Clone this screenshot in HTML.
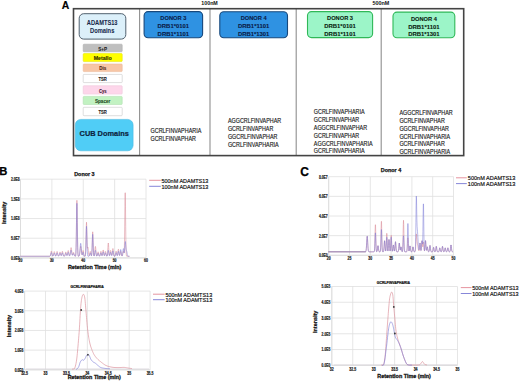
<!DOCTYPE html>
<html><head><meta charset="utf-8"><style>
html,body{margin:0;padding:0;background:#fff;width:520px;height:381px;overflow:hidden}
svg{display:block}
text{font-family:"Liberation Sans",sans-serif}
</style></head><body>
<svg width="520" height="381" viewBox="0 0 520 381">
<rect width="520" height="381" fill="#fff"/>
<text x="61.8" y="8.6" font-size="10.4" font-weight="bold" text-anchor="start" fill="#000" stroke="#000" stroke-width="0.15" >A</text>
<text x="201.3" y="4.9" font-size="4.9" font-weight="bold" text-anchor="start" fill="#111" textLength="16.5" lengthAdjust="spacingAndGlyphs" >100nM</text>
<text x="372.4" y="4.9" font-size="4.9" font-weight="bold" text-anchor="start" fill="#111" textLength="16.8" lengthAdjust="spacingAndGlyphs" >500nM</text>
<line x1="139.6" y1="8.7" x2="139.6" y2="155.6" stroke="#8f8f8f" stroke-width="1.1" opacity="1"/>
<line x1="210" y1="8.7" x2="210" y2="155.6" stroke="#8f8f8f" stroke-width="1.1" opacity="1"/>
<line x1="296.2" y1="8.7" x2="296.2" y2="155.6" stroke="#8f8f8f" stroke-width="1.1" opacity="1"/>
<line x1="381.2" y1="8.7" x2="381.2" y2="155.6" stroke="#8f8f8f" stroke-width="1.1" opacity="1"/>
<rect x="73.5" y="8.7" width="390.2" height="146.9" rx="0" fill="none" stroke="#444" stroke-width="1.6"/>
<rect x="79.2" y="13.7" width="46.6" height="25.4" rx="4.5" fill="#dcf0fa" stroke="#50606e" stroke-width="1.0"/>
<text x="102.2" y="24.9" font-size="6.4" font-weight="bold" text-anchor="middle" fill="#17284a" stroke="#17284a" stroke-width="0.05" textLength="30.7" lengthAdjust="spacingAndGlyphs" >ADAMTS13</text>
<text x="102.2" y="32.9" font-size="6.4" font-weight="bold" text-anchor="middle" fill="#17284a" stroke="#17284a" stroke-width="0.05" textLength="24.3" lengthAdjust="spacingAndGlyphs" >Domains</text>
<rect x="83.2" y="44.2" width="39" height="7.6" rx="0.8" fill="#bfbfbf" stroke="#b0b0b0" stroke-width="0.6"/>
<text x="102.7" y="50.6" font-size="5.2" font-weight="bold" text-anchor="middle" fill="#222" stroke="#222" stroke-width="0.1" textLength="8.7" lengthAdjust="spacingAndGlyphs" >S+P</text>
<rect x="83.2" y="53.6" width="39" height="8" rx="0.8" fill="#ffff00" stroke="#e8e800" stroke-width="0.6"/>
<text x="102.7" y="60.2" font-size="5.2" font-weight="bold" text-anchor="middle" fill="#2a2a00" stroke="#2a2a00" stroke-width="0.1" textLength="18" lengthAdjust="spacingAndGlyphs" >Metallo</text>
<rect x="83.2" y="64" width="39" height="7.6" rx="0.8" fill="#f7c6a6" stroke="#ecb898" stroke-width="0.6"/>
<text x="102.7" y="70.39999999999999" font-size="5.2" font-weight="bold" text-anchor="middle" fill="#4a2010" stroke="#4a2010" stroke-width="0.1" textLength="7" lengthAdjust="spacingAndGlyphs" >Dis</text>
<rect x="83.2" y="74.4" width="39" height="8.2" rx="0.8" fill="#ffffff" stroke="#c8c8c8" stroke-width="0.6"/>
<text x="102.7" y="81.1" font-size="5.2" font-weight="bold" text-anchor="middle" fill="#222" stroke="#222" stroke-width="0.1" textLength="8.4" lengthAdjust="spacingAndGlyphs" >TSR</text>
<rect x="83.2" y="85.7" width="39" height="8.4" rx="0.8" fill="#fdd6ea" stroke="#f0c8dc" stroke-width="0.6"/>
<text x="102.7" y="92.5" font-size="5.2" font-weight="bold" text-anchor="middle" fill="#3a1030" stroke="#3a1030" stroke-width="0.1" textLength="7.5" lengthAdjust="spacingAndGlyphs" >Cys</text>
<rect x="83.2" y="96.4" width="39" height="8.1" rx="0.8" fill="#c2f2c2" stroke="#b0e0b0" stroke-width="0.6"/>
<text x="102.7" y="103.05" font-size="5.2" font-weight="bold" text-anchor="middle" fill="#1d4a1d" stroke="#1d4a1d" stroke-width="0.1" textLength="15.5" lengthAdjust="spacingAndGlyphs" >Spacer</text>
<rect x="83.2" y="107.3" width="39" height="8.4" rx="0.8" fill="#ffffff" stroke="#c8c8c8" stroke-width="0.6"/>
<text x="102.7" y="114.1" font-size="5.2" font-weight="bold" text-anchor="middle" fill="#222" stroke="#222" stroke-width="0.1" textLength="8.4" lengthAdjust="spacingAndGlyphs" >TSR</text>
<rect x="75.3" y="119.4" width="57.8" height="31.4" rx="5.5" fill="#50cdf6" stroke="#4ab8e0" stroke-width="0.6"/>
<text x="104.2" y="136.2" font-size="7.4" font-weight="bold" text-anchor="middle" fill="#0d2440" stroke="#0d2440" stroke-width="0.2" textLength="49.3" lengthAdjust="spacingAndGlyphs" >CUB Domains</text>
<rect x="144.1" y="11.6" width="58.5" height="26.2" rx="4" fill="#2f92e2" stroke="#17487c" stroke-width="1.1"/>
<text x="173.35" y="20.2" font-size="6.2" font-weight="bold" text-anchor="middle" fill="#0a1c48" stroke="#0a1c48" stroke-width="0.1" textLength="26" lengthAdjust="spacingAndGlyphs" >DONOR 3</text>
<text x="173.35" y="28.200000000000003" font-size="6.2" font-weight="bold" text-anchor="middle" fill="#0a1c48" stroke="#0a1c48" stroke-width="0.1" textLength="31.5" lengthAdjust="spacingAndGlyphs" >DRB1*0101</text>
<text x="173.35" y="35.9" font-size="6.2" font-weight="bold" text-anchor="middle" fill="#0a1c48" stroke="#0a1c48" stroke-width="0.1" textLength="31.5" lengthAdjust="spacingAndGlyphs" >DRB1*1101</text>
<rect x="219.8" y="11.8" width="67.7" height="26.0" rx="4" fill="#2f92e2" stroke="#17487c" stroke-width="1.1"/>
<text x="253.65" y="20.4" font-size="6.2" font-weight="bold" text-anchor="middle" fill="#0a1c48" stroke="#0a1c48" stroke-width="0.1" textLength="26" lengthAdjust="spacingAndGlyphs" >DONOR 4</text>
<text x="253.65" y="28.400000000000002" font-size="6.2" font-weight="bold" text-anchor="middle" fill="#0a1c48" stroke="#0a1c48" stroke-width="0.1" textLength="31.5" lengthAdjust="spacingAndGlyphs" >DRB1*1101</text>
<text x="253.65" y="36.1" font-size="6.2" font-weight="bold" text-anchor="middle" fill="#0a1c48" stroke="#0a1c48" stroke-width="0.1" textLength="31.5" lengthAdjust="spacingAndGlyphs" >DRB1*1301</text>
<rect x="307.5" y="11.6" width="65.1" height="26.0" rx="4" fill="#9cf5c8" stroke="#30b858" stroke-width="1.1"/>
<text x="340.05" y="20.2" font-size="6.2" font-weight="bold" text-anchor="middle" fill="#0a2410" stroke="#0a2410" stroke-width="0.1" textLength="26" lengthAdjust="spacingAndGlyphs" >DONOR 3</text>
<text x="340.05" y="28.200000000000003" font-size="6.2" font-weight="bold" text-anchor="middle" fill="#0a2410" stroke="#0a2410" stroke-width="0.1" textLength="31.5" lengthAdjust="spacingAndGlyphs" >DRB1*0101</text>
<text x="340.05" y="35.9" font-size="6.2" font-weight="bold" text-anchor="middle" fill="#0a2410" stroke="#0a2410" stroke-width="0.1" textLength="31.5" lengthAdjust="spacingAndGlyphs" >DRB1*1101</text>
<rect x="393.0" y="12.1" width="61.8" height="25.6" rx="4" fill="#9cf5c8" stroke="#30b858" stroke-width="1.1"/>
<text x="423.9" y="20.7" font-size="6.2" font-weight="bold" text-anchor="middle" fill="#0a2410" stroke="#0a2410" stroke-width="0.1" textLength="26" lengthAdjust="spacingAndGlyphs" >DONOR 4</text>
<text x="423.9" y="28.700000000000003" font-size="6.2" font-weight="bold" text-anchor="middle" fill="#0a2410" stroke="#0a2410" stroke-width="0.1" textLength="31.5" lengthAdjust="spacingAndGlyphs" >DRB1*1101</text>
<text x="423.9" y="36.4" font-size="6.2" font-weight="bold" text-anchor="middle" fill="#0a2410" stroke="#0a2410" stroke-width="0.1" textLength="31.5" lengthAdjust="spacingAndGlyphs" >DRB1*1301</text>
<text x="150.5" y="132.5" font-size="6.6" text-anchor="start" fill="#222" stroke="#222" stroke-width="0.16" textLength="50.8" lengthAdjust="spacingAndGlyphs" >GCRLFINVAPHARIA</text>
<text x="150.5" y="140.6" font-size="6.6" text-anchor="start" fill="#222" stroke="#222" stroke-width="0.16" textLength="45.4" lengthAdjust="spacingAndGlyphs" >GCRLFINVAPHAR</text>
<text x="227.9" y="123.0" font-size="6.6" text-anchor="start" fill="#222" stroke="#222" stroke-width="0.16" textLength="53.3" lengthAdjust="spacingAndGlyphs" >AGGCRLFINVAPHAR</text>
<text x="227.9" y="131.2" font-size="6.6" text-anchor="start" fill="#222" stroke="#222" stroke-width="0.16" textLength="45.4" lengthAdjust="spacingAndGlyphs" >GCRLFINVAPHAR</text>
<text x="227.9" y="139.0" font-size="6.6" text-anchor="start" fill="#222" stroke="#222" stroke-width="0.16" textLength="49.5" lengthAdjust="spacingAndGlyphs" >GGCRLFINVAPHAR</text>
<text x="227.9" y="146.89999999999998" font-size="6.6" text-anchor="start" fill="#222" stroke="#222" stroke-width="0.16" textLength="50.8" lengthAdjust="spacingAndGlyphs" >GCRLFINVAPHARIA</text>
<text x="313.8" y="114.2" font-size="6.6" text-anchor="start" fill="#222" stroke="#222" stroke-width="0.16" textLength="50.8" lengthAdjust="spacingAndGlyphs" >GCRLFINVAPHARIA</text>
<text x="313.8" y="121.9" font-size="6.6" text-anchor="start" fill="#222" stroke="#222" stroke-width="0.16" textLength="45.4" lengthAdjust="spacingAndGlyphs" >GCRLFINVAPHAR</text>
<text x="313.8" y="129.7" font-size="6.6" text-anchor="start" fill="#222" stroke="#222" stroke-width="0.16" textLength="53.3" lengthAdjust="spacingAndGlyphs" >AGGCRLFINVAPHAR</text>
<text x="313.8" y="137.5" font-size="6.6" text-anchor="start" fill="#222" stroke="#222" stroke-width="0.16" textLength="45.4" lengthAdjust="spacingAndGlyphs" >GCRLFINVAPHAR</text>
<text x="313.8" y="145.5" font-size="6.6" text-anchor="start" fill="#222" stroke="#222" stroke-width="0.16" textLength="58.8" lengthAdjust="spacingAndGlyphs" >AGGCRLFINVAPHARIA</text>
<text x="313.8" y="153.29999999999998" font-size="6.6" text-anchor="start" fill="#222" stroke="#222" stroke-width="0.16" textLength="50.8" lengthAdjust="spacingAndGlyphs" >GCRLFINVAPHARIA</text>
<text x="399.4" y="114.9" font-size="6.6" text-anchor="start" fill="#222" stroke="#222" stroke-width="0.16" textLength="53.3" lengthAdjust="spacingAndGlyphs" >AGGCRLFINVAPHAR</text>
<text x="399.4" y="122.7" font-size="6.6" text-anchor="start" fill="#222" stroke="#222" stroke-width="0.16" textLength="45.4" lengthAdjust="spacingAndGlyphs" >GCRLFINVAPHAR</text>
<text x="399.4" y="130.6" font-size="6.6" text-anchor="start" fill="#222" stroke="#222" stroke-width="0.16" textLength="49.5" lengthAdjust="spacingAndGlyphs" >GGCRLFINVAPHAR</text>
<text x="399.4" y="138.5" font-size="6.6" text-anchor="start" fill="#222" stroke="#222" stroke-width="0.16" textLength="50.8" lengthAdjust="spacingAndGlyphs" >GCRLFINVAPHARIA</text>
<text x="399.4" y="146.29999999999998" font-size="6.6" text-anchor="start" fill="#222" stroke="#222" stroke-width="0.16" textLength="45.4" lengthAdjust="spacingAndGlyphs" >GCRLFINVAPHAR</text>
<text x="399.4" y="154.1" font-size="6.6" text-anchor="start" fill="#222" stroke="#222" stroke-width="0.16" textLength="50.8" lengthAdjust="spacingAndGlyphs" >GCRLFINVAPHARIA</text>
<text x="-0.7" y="175.2" font-size="11.2" font-weight="bold" text-anchor="start" fill="#000" stroke="#000" stroke-width="0.25" >B</text>
<text x="84.4" y="175.7" font-size="5.7" font-weight="bold" text-anchor="middle" fill="#111" stroke="#111" stroke-width="0.25" textLength="20.4" lengthAdjust="spacingAndGlyphs" >Donor 3</text>
<line x1="20.5" y1="179.2" x2="146" y2="179.2" stroke="#e0e0e0" stroke-width="0.8" opacity="1"/>
<text x="19.6" y="181.1" font-size="4.6" font-weight="bold" text-anchor="end" fill="#1a1a1a" stroke="#1a1a1a" stroke-width="0.2" textLength="8.69" lengthAdjust="spacingAndGlyphs" >2.0E8</text>
<line x1="20.5" y1="198.875" x2="146" y2="198.875" stroke="#e0e0e0" stroke-width="0.8" opacity="1"/>
<text x="19.6" y="200.775" font-size="4.6" font-weight="bold" text-anchor="end" fill="#1a1a1a" stroke="#1a1a1a" stroke-width="0.2" textLength="8.69" lengthAdjust="spacingAndGlyphs" >1.5E8</text>
<line x1="20.5" y1="218.54999999999998" x2="146" y2="218.54999999999998" stroke="#e0e0e0" stroke-width="0.8" opacity="1"/>
<text x="19.6" y="220.45" font-size="4.6" font-weight="bold" text-anchor="end" fill="#1a1a1a" stroke="#1a1a1a" stroke-width="0.2" textLength="8.69" lengthAdjust="spacingAndGlyphs" >1.0E8</text>
<line x1="20.5" y1="238.22499999999997" x2="146" y2="238.22499999999997" stroke="#e0e0e0" stroke-width="0.8" opacity="1"/>
<text x="19.6" y="240.12499999999997" font-size="4.6" font-weight="bold" text-anchor="end" fill="#1a1a1a" stroke="#1a1a1a" stroke-width="0.2" textLength="8.69" lengthAdjust="spacingAndGlyphs" >5.0E7</text>
<line x1="20.5" y1="257.9" x2="146" y2="257.9" stroke="#e0e0e0" stroke-width="0.8" opacity="1"/>
<text x="19.6" y="259.79999999999995" font-size="4.6" font-weight="bold" text-anchor="end" fill="#1a1a1a" stroke="#1a1a1a" stroke-width="0.2" textLength="8.69" lengthAdjust="spacingAndGlyphs" >0.0E0</text>
<line x1="20.5" y1="179.2" x2="20.5" y2="257.9" stroke="#e0e0e0" stroke-width="0.8" opacity="1"/>
<text x="20.5" y="262.4" font-size="4.6" font-weight="bold" text-anchor="middle" fill="#1a1a1a" stroke="#1a1a1a" stroke-width="0.2" textLength="3.87" lengthAdjust="spacingAndGlyphs" >20</text>
<line x1="51.875" y1="179.2" x2="51.875" y2="257.9" stroke="#e0e0e0" stroke-width="0.8" opacity="1"/>
<text x="51.875" y="262.4" font-size="4.6" font-weight="bold" text-anchor="middle" fill="#1a1a1a" stroke="#1a1a1a" stroke-width="0.2" textLength="3.87" lengthAdjust="spacingAndGlyphs" >30</text>
<line x1="83.25" y1="179.2" x2="83.25" y2="257.9" stroke="#e0e0e0" stroke-width="0.8" opacity="1"/>
<text x="83.25" y="262.4" font-size="4.6" font-weight="bold" text-anchor="middle" fill="#1a1a1a" stroke="#1a1a1a" stroke-width="0.2" textLength="3.87" lengthAdjust="spacingAndGlyphs" >40</text>
<line x1="114.625" y1="179.2" x2="114.625" y2="257.9" stroke="#e0e0e0" stroke-width="0.8" opacity="1"/>
<text x="114.625" y="262.4" font-size="4.6" font-weight="bold" text-anchor="middle" fill="#1a1a1a" stroke="#1a1a1a" stroke-width="0.2" textLength="3.87" lengthAdjust="spacingAndGlyphs" >50</text>
<line x1="146.0" y1="179.2" x2="146.0" y2="257.9" stroke="#e0e0e0" stroke-width="0.8" opacity="1"/>
<text x="146.0" y="262.4" font-size="4.6" font-weight="bold" text-anchor="middle" fill="#1a1a1a" stroke="#1a1a1a" stroke-width="0.2" textLength="3.87" lengthAdjust="spacingAndGlyphs" >60</text>
<line x1="20.5" y1="179.2" x2="20.5" y2="257.9" stroke="#dadada" stroke-width="0.8" opacity="1"/>
<line x1="20.5" y1="257.9" x2="146" y2="257.9" stroke="#dadada" stroke-width="0.8" opacity="1"/>
<text x="94.6" y="268.6" font-size="6.0" font-weight="bold" text-anchor="middle" fill="#111" stroke="#111" stroke-width="0.28" textLength="53.3" lengthAdjust="spacingAndGlyphs" >Retention Time (min)</text>
<text x="5.6" y="212.9" font-size="5.8" font-weight="bold" text-anchor="middle" fill="#111" stroke="#111" stroke-width="0.25" textLength="22.3" lengthAdjust="spacingAndGlyphs" transform="rotate(-90 5.6 212.9)">Intensity</text>
<line x1="149.2" y1="180.3" x2="160.8" y2="180.3" stroke="#e07a88" stroke-width="1.0" opacity="0.8"/>
<line x1="149.2" y1="186.3" x2="160.8" y2="186.3" stroke="#6a6ad0" stroke-width="1.0" opacity="0.8"/>
<text x="161.5" y="182.8" font-size="6.0" text-anchor="start" fill="#111" stroke="#111" stroke-width="0.18" textLength="46.8" lengthAdjust="spacingAndGlyphs" >500nM ADAMTS13</text>
<text x="161.5" y="188.8" font-size="6.0" text-anchor="start" fill="#111" stroke="#111" stroke-width="0.18" textLength="46.8" lengthAdjust="spacingAndGlyphs" >100nM ADAMTS13</text>
<polyline points="20.5,256.30 20.7,256.30 20.9,256.30 21.1,256.30 21.3,256.30 21.5,256.30 21.7,256.30 21.9,256.30 22.1,256.30 22.3,256.30 22.5,256.30 22.7,256.30 22.9,256.30 23.1,256.30 23.3,256.30 23.5,256.30 23.7,256.30 23.9,256.30 24.1,256.30 24.3,256.30 24.5,256.30 24.7,256.30 24.9,256.30 25.1,256.30 25.3,256.30 25.5,256.30 25.7,256.30 25.9,256.30 26.1,256.30 26.3,256.30 26.5,256.30 26.7,256.30 26.9,256.30 27.1,256.30 27.3,256.30 27.5,256.30 27.7,256.30 27.9,256.30 28.1,256.30 28.3,256.30 28.5,256.30 28.7,256.30 28.9,256.30 29.1,256.30 29.3,256.30 29.5,256.30 29.7,256.30 29.9,256.30 30.1,256.30 30.3,256.30 30.5,256.30 30.7,256.30 30.9,256.30 31.1,256.30 31.3,256.30 31.5,256.30 31.7,256.30 31.9,256.30 32.1,256.30 32.3,256.30 32.5,256.30 32.7,256.30 32.9,256.30 33.1,256.30 33.3,256.30 33.5,256.30 33.7,256.30 33.9,256.30 34.1,256.30 34.3,256.30 34.5,256.30 34.7,256.30 34.9,256.30 35.1,256.30 35.3,256.30 35.5,256.30 35.7,256.30 35.9,256.30 36.1,256.30 36.3,256.30 36.5,256.30 36.7,256.30 36.9,256.30 37.1,256.30 37.3,256.30 37.5,256.30 37.7,256.30 37.9,256.30 38.1,256.30 38.3,256.30 38.5,256.30 38.7,256.30 38.9,256.30 39.1,256.30 39.3,256.30 39.5,256.30 39.7,256.30 39.9,256.30 40.1,256.30 40.3,256.30 40.5,256.30 40.7,256.30 40.9,256.30 41.1,256.30 41.3,256.30 41.5,256.30 41.7,256.30 41.9,256.30 42.1,256.30 42.3,256.30 42.5,256.30 42.7,256.30 42.9,256.30 43.1,256.30 43.3,256.30 43.5,256.30 43.7,256.30 43.9,256.30 44.1,256.30 44.3,256.30 44.5,256.30 44.7,256.30 44.9,256.30 45.1,256.30 45.3,256.30 45.5,256.30 45.7,256.30 45.9,256.30 46.1,256.30 46.3,256.30 46.5,256.30 46.7,256.30 46.9,256.30 47.1,256.30 47.3,256.30 47.5,256.30 47.7,256.30 47.9,256.30 48.1,256.30 48.3,256.30 48.5,256.30 48.7,256.30 48.9,256.30 49.1,256.30 49.3,256.30 49.5,256.29 49.7,256.26 49.9,256.17 50.1,255.98 50.3,255.58 50.5,254.91 50.7,253.94 50.9,252.79 51.1,251.73 51.3,251.09 51.5,251.09 51.7,251.73 51.9,252.79 52.1,253.94 52.3,254.90 52.5,255.56 52.7,255.91 52.9,255.99 53.1,255.82 53.3,255.39 53.5,254.66 53.7,253.71 53.9,252.69 54.1,251.90 54.3,251.60 54.5,251.90 54.7,252.69 54.9,253.71 55.1,254.66 55.3,255.38 55.5,255.79 55.7,255.92 55.9,255.78 56.1,255.34 56.3,254.59 56.5,253.60 56.7,252.54 56.9,251.71 57.1,251.40 57.3,251.71 57.5,252.54 57.7,253.60 57.9,254.60 58.1,255.35 58.3,255.81 58.5,256.00 58.7,255.96 58.9,255.68 59.1,255.14 59.3,254.34 59.5,253.39 59.7,252.51 59.9,251.97 60.1,251.97 60.3,252.50 60.5,253.38 60.7,254.30 60.9,255.03 61.1,255.40 61.3,255.35 61.5,254.88 61.7,254.04 61.9,252.98 62.1,251.99 62.3,251.38 62.5,251.38 62.7,251.99 62.9,252.99 63.1,254.08 63.3,254.99 63.5,255.62 63.7,255.99 63.9,256.17 64.1,256.22 64.3,256.18 64.5,256.03 64.7,255.70 64.9,255.15 65.1,254.34 65.3,253.39 65.5,252.51 65.7,251.97 65.9,251.97 66.1,252.50 66.3,253.37 66.5,254.29 66.7,255.01 66.9,255.35 67.1,255.25 67.3,254.67 67.5,253.68 67.7,252.45 67.9,251.30 68.1,250.59 68.3,250.59 68.5,251.30 68.7,252.46 68.9,253.71 69.1,254.75 69.3,255.42 69.5,255.70 69.7,255.59 69.9,255.07 70.1,254.12 70.3,252.72 70.5,251.02 70.7,249.33 70.9,248.07 71.1,247.60 71.3,248.07 71.5,249.33 71.7,251.00 71.9,252.67 72.1,253.97 72.3,254.75 72.5,254.96 72.7,254.66 72.9,254.00 73.1,253.20 73.3,252.55 73.5,252.30 73.7,252.56 73.9,253.23 74.1,254.09 74.3,254.91 74.5,255.53 74.7,255.93 74.9,256.14 75.1,256.24 75.3,256.24 75.5,256.08 75.7,255.35 75.9,253.01 76.1,247.17 76.3,236.11 76.5,220.72 76.7,206.30 76.9,200.30 77.1,206.30 77.3,220.72 77.5,236.11 77.7,247.17 77.9,253.01 78.1,255.35 78.3,256.08 78.5,256.25 78.7,256.26 78.9,256.19 79.1,256.01 79.3,255.64 79.5,254.95 79.7,253.81 79.9,252.19 80.1,250.23 80.3,248.29 80.5,246.84 80.7,246.30 80.9,246.84 81.1,248.29 81.3,250.23 81.5,252.15 81.7,253.69 81.9,254.62 82.1,254.86 82.3,254.40 82.5,253.37 82.7,252.05 82.9,250.93 83.1,250.50 83.3,250.95 83.5,252.09 83.7,253.48 83.9,254.69 84.1,255.52 84.3,255.97 84.5,256.18 84.7,256.26 84.9,256.27 85.1,256.17 85.3,255.73 85.5,254.30 85.7,250.76 85.9,244.04 86.1,234.69 86.3,225.93 86.5,222.23 86.7,225.69 86.9,233.93 87.1,242.19 87.3,247.06 87.5,248.24 87.7,247.57 87.9,247.17 88.1,248.12 88.3,250.23 88.5,252.59 88.7,254.42 88.9,255.44 89.1,255.77 89.3,255.57 89.5,254.92 89.7,253.91 89.9,252.74 90.1,251.78 90.3,251.40 90.5,251.78 90.7,252.74 90.9,253.91 91.1,254.92 91.3,255.54 91.5,255.61 91.7,254.76 91.9,252.28 92.1,247.46 92.3,240.73 92.5,234.43 92.7,231.80 92.9,234.43 93.1,240.73 93.3,247.47 93.5,252.30 93.7,254.83 93.9,255.78 94.1,255.86 94.3,255.39 94.5,254.32 94.7,252.55 94.9,250.23 95.1,247.95 95.3,246.50 95.5,246.50 95.7,247.95 95.9,250.23 96.1,252.55 96.3,254.31 96.5,255.38 96.7,255.87 96.9,255.94 97.1,255.66 97.3,255.04 97.5,254.11 97.7,253.03 97.9,252.15 98.1,251.80 98.3,252.15 98.5,253.03 98.7,254.11 98.9,255.05 99.1,255.68 99.3,256.02 99.5,256.11 99.7,255.99 99.9,255.62 100.1,254.91 100.3,253.87 100.5,252.67 100.7,251.68 100.9,251.30 101.1,251.68 101.3,252.66 101.5,253.85 101.7,254.84 101.9,255.41 102.1,255.45 102.3,254.93 102.5,253.87 102.7,252.41 102.9,250.95 103.1,250.03 103.3,250.03 103.5,250.95 103.7,252.41 103.9,253.87 104.1,254.93 104.3,255.45 104.5,255.41 104.7,254.84 104.9,253.85 105.1,252.66 105.3,251.68 105.5,251.30 105.7,251.68 105.9,252.67 106.1,253.87 106.3,254.91 106.5,255.62 106.7,256.00 106.9,256.10 107.1,255.89 107.3,255.17 107.5,253.56 107.7,250.83 107.9,247.34 108.1,244.25 108.3,243.00 108.5,244.25 108.7,247.34 108.9,250.81 109.1,253.50 109.3,254.97 109.5,255.40 109.7,255.03 109.9,254.06 110.1,252.72 110.3,251.37 110.5,250.52 110.7,250.52 110.9,251.37 111.1,252.71 111.3,254.04 111.5,254.98 111.7,255.34 111.9,255.04 112.1,254.07 112.3,252.49 112.5,250.63 112.7,249.10 112.9,248.50 113.1,249.10 113.3,250.64 113.5,252.50 113.7,254.13 113.9,255.24 114.1,255.86 114.3,256.14 114.5,256.22 114.7,256.18 114.9,256.01 115.1,255.60 115.3,254.85 115.5,253.77 115.7,252.52 115.9,251.50 116.1,251.10 116.3,251.50 116.5,252.52 116.7,253.75 116.9,254.77 117.1,255.35 117.3,255.37 117.5,254.77 117.7,253.57 117.9,251.93 118.1,250.28 118.3,249.24 118.5,249.24 118.7,250.28 118.9,251.93 119.1,253.57 119.3,254.78 119.5,255.38 119.7,255.38 119.9,254.83 120.1,253.84 120.3,252.66 120.5,251.68 120.7,251.30 120.9,251.68 121.1,252.67 121.3,253.87 121.5,254.91 121.7,255.61 121.9,255.96 122.1,256.03 122.3,255.83 122.5,255.30 122.7,254.42 122.9,253.27 123.1,252.12 123.3,251.40 123.5,251.39 123.7,252.07 123.9,252.93 124.1,252.93 124.3,250.10 124.5,241.69 124.7,226.14 124.9,206.80 125.1,192.80 125.3,192.81 125.5,206.86 125.7,226.31 125.9,242.13 126.1,251.09 126.3,254.81 126.5,255.97 126.7,256.24 126.9,256.29 127.1,256.30 127.3,256.30 127.5,256.30 127.7,256.30 127.9,256.30 128.1,256.30 128.3,256.30 128.5,256.30 128.7,256.30 128.9,256.30 129.1,256.30 129.3,256.30 129.5,256.30" fill="none" stroke="#d98a96" stroke-width="0.7" stroke-linejoin="round" opacity="0.8"/>
<polyline points="20.5,256.30 20.7,256.30 20.9,256.30 21.1,256.30 21.3,256.30 21.5,256.30 21.7,256.30 21.9,256.30 22.1,256.30 22.3,256.30 22.5,256.30 22.7,256.30 22.9,256.30 23.1,256.30 23.3,256.30 23.5,256.30 23.7,256.30 23.9,256.30 24.1,256.30 24.3,256.30 24.5,256.30 24.7,256.30 24.9,256.30 25.1,256.30 25.3,256.30 25.5,256.30 25.7,256.30 25.9,256.30 26.1,256.30 26.3,256.30 26.5,256.30 26.7,256.30 26.9,256.30 27.1,256.30 27.3,256.30 27.5,256.30 27.7,256.30 27.9,256.30 28.1,256.30 28.3,256.30 28.5,256.30 28.7,256.30 28.9,256.30 29.1,256.30 29.3,256.30 29.5,256.30 29.7,256.30 29.9,256.30 30.1,256.30 30.3,256.30 30.5,256.30 30.7,256.30 30.9,256.30 31.1,256.30 31.3,256.30 31.5,256.30 31.7,256.30 31.9,256.30 32.1,256.30 32.3,256.30 32.5,256.30 32.7,256.30 32.9,256.30 33.1,256.30 33.3,256.30 33.5,256.30 33.7,256.30 33.9,256.30 34.1,256.30 34.3,256.30 34.5,256.30 34.7,256.30 34.9,256.30 35.1,256.30 35.3,256.30 35.5,256.30 35.7,256.30 35.9,256.30 36.1,256.30 36.3,256.30 36.5,256.30 36.7,256.30 36.9,256.30 37.1,256.30 37.3,256.30 37.5,256.30 37.7,256.30 37.9,256.30 38.1,256.30 38.3,256.30 38.5,256.30 38.7,256.30 38.9,256.30 39.1,256.30 39.3,256.30 39.5,256.30 39.7,256.30 39.9,256.30 40.1,256.30 40.3,256.30 40.5,256.30 40.7,256.30 40.9,256.30 41.1,256.30 41.3,256.30 41.5,256.30 41.7,256.30 41.9,256.30 42.1,256.30 42.3,256.30 42.5,256.30 42.7,256.30 42.9,256.30 43.1,256.30 43.3,256.30 43.5,256.30 43.7,256.30 43.9,256.30 44.1,256.30 44.3,256.30 44.5,256.30 44.7,256.30 44.9,256.30 45.1,256.30 45.3,256.30 45.5,256.30 45.7,256.30 45.9,256.30 46.1,256.30 46.3,256.30 46.5,256.30 46.7,256.30 46.9,256.30 47.1,256.30 47.3,256.30 47.5,256.30 47.7,256.30 47.9,256.30 48.1,256.30 48.3,256.30 48.5,256.30 48.7,256.30 48.9,256.30 49.1,256.30 49.3,256.30 49.5,256.29 49.7,256.27 49.9,256.21 50.1,256.07 50.3,255.80 50.5,255.33 50.7,254.65 50.9,253.85 51.1,253.10 51.3,252.65 51.5,252.65 51.7,253.10 51.9,253.85 52.1,254.65 52.3,255.32 52.5,255.78 52.7,256.03 52.9,256.08 53.1,255.96 53.3,255.66 53.5,255.16 53.7,254.48 53.9,253.77 54.1,253.22 54.3,253.01 54.5,253.22 54.7,253.77 54.9,254.48 55.1,255.15 55.3,255.65 55.5,255.95 55.7,256.04 55.9,255.93 56.1,255.63 56.3,255.10 56.5,254.41 56.7,253.67 56.9,253.09 57.1,252.87 57.3,253.09 57.5,253.67 57.7,254.41 57.9,255.11 58.1,255.64 58.3,255.96 58.5,256.09 58.7,256.06 58.9,255.87 59.1,255.49 59.3,254.93 59.5,254.26 59.7,253.65 59.9,253.27 60.1,253.27 60.3,253.64 60.5,254.25 60.7,254.90 60.9,255.41 61.1,255.67 61.3,255.64 61.5,255.31 61.7,254.72 61.9,253.98 62.1,253.28 62.3,252.86 62.5,252.86 62.7,253.28 62.9,253.98 63.1,254.74 63.3,255.38 63.5,255.83 63.7,256.08 63.9,256.21 64.1,256.24 64.3,256.22 64.5,256.11 64.7,255.88 64.9,255.49 65.1,254.93 65.3,254.26 65.5,253.65 65.7,253.27 65.9,253.27 66.1,253.64 66.3,254.25 66.5,254.90 66.7,255.39 66.9,255.63 67.1,255.56 67.3,255.16 67.5,254.47 67.7,253.61 67.9,252.80 68.1,252.31 68.3,252.31 68.5,252.80 68.7,253.61 68.9,254.49 69.1,255.21 69.3,255.68 69.5,255.88 69.7,255.80 69.9,255.44 70.1,254.77 70.3,253.79 70.5,252.61 70.7,251.42 70.9,250.54 71.1,250.21 71.3,250.54 71.5,251.42 71.7,252.59 71.9,253.76 72.1,254.67 72.3,255.22 72.5,255.36 72.7,255.15 72.9,254.69 73.1,254.13 73.3,253.67 73.5,253.50 73.7,253.68 73.9,254.15 74.1,254.76 74.3,255.33 74.5,255.76 74.7,256.04 74.9,256.19 75.1,256.25 75.3,256.25 75.5,256.09 75.7,255.40 75.9,253.19 76.1,247.66 76.3,237.20 76.5,222.62 76.7,208.98 76.9,203.30 77.1,208.98 77.3,222.62 77.5,237.20 77.7,247.66 77.9,253.19 78.1,255.40 78.3,256.09 78.5,256.25 78.7,256.24 78.9,256.15 79.1,255.93 79.3,255.45 79.5,254.54 79.7,253.06 79.9,250.96 80.1,248.42 80.3,245.89 80.5,244.00 80.7,243.30 80.9,244.00 81.1,245.89 81.3,248.41 81.5,250.93 81.7,252.98 81.9,254.31 82.1,254.90 82.3,254.80 82.5,254.18 82.7,253.30 82.9,252.54 83.1,252.24 83.3,252.55 83.5,253.35 83.7,254.32 83.9,255.17 84.1,255.75 84.3,256.07 84.5,256.22 84.7,256.27 84.9,256.27 85.1,256.18 85.3,255.79 85.5,254.54 85.7,251.41 85.9,245.49 86.1,237.24 86.3,229.52 86.5,226.30 86.7,229.52 86.9,237.24 87.1,245.49 87.3,251.41 87.5,254.54 87.7,255.79 87.9,256.18 88.1,256.28 88.3,256.30 88.5,256.29 88.7,256.28 88.9,256.23 89.1,256.11 89.3,255.84 89.5,255.35 89.7,254.63 89.9,253.81 90.1,253.13 90.3,252.87 90.5,253.13 90.7,253.81 90.9,254.63 91.1,255.33 91.3,255.75 91.5,255.74 91.7,254.94 91.9,252.69 92.1,248.36 92.3,242.32 92.5,236.66 92.7,234.30 92.9,236.66 93.1,242.32 93.3,248.37 93.5,252.71 93.7,254.99 93.9,255.86 94.1,256.01 94.3,255.75 94.5,255.11 94.7,254.05 94.9,252.66 95.1,251.29 95.3,250.42 95.5,250.42 95.7,251.29 95.9,252.66 96.1,254.05 96.3,255.11 96.5,255.75 96.7,256.03 96.9,256.06 97.1,255.86 97.3,255.42 97.5,254.77 97.7,254.01 97.9,253.39 98.1,253.15 98.3,253.39 98.5,254.01 98.7,254.77 98.9,255.42 99.1,255.87 99.3,256.10 99.5,256.17 99.7,256.08 99.9,255.82 100.1,255.33 100.3,254.60 100.5,253.76 100.7,253.07 100.9,252.80 101.1,253.07 101.3,253.76 101.5,254.58 101.7,255.28 101.9,255.67 102.1,255.71 102.3,255.34 102.5,254.60 102.7,253.58 102.9,252.56 103.1,251.91 103.3,251.91 103.5,252.56 103.7,253.58 103.9,254.60 104.1,255.34 104.3,255.71 104.5,255.67 104.7,255.28 104.9,254.58 105.1,253.76 105.3,253.07 105.5,252.80 105.7,253.07 105.9,253.76 106.1,254.60 106.3,255.33 106.5,255.82 106.7,256.09 106.9,256.18 107.1,256.11 107.3,255.79 107.5,255.06 107.7,253.83 107.9,252.26 108.1,250.86 108.3,250.30 108.5,250.86 108.7,252.26 108.9,253.82 109.1,255.02 109.3,255.65 109.5,255.76 109.7,255.44 109.9,254.74 110.1,253.79 110.3,252.85 110.5,252.25 110.7,252.25 110.9,252.85 111.1,253.79 111.3,254.72 111.5,255.37 111.7,255.63 111.9,255.42 112.1,254.74 112.3,253.63 112.5,252.33 112.7,251.26 112.9,250.84 113.1,251.26 113.3,252.34 113.5,253.64 113.7,254.78 113.9,255.56 114.1,255.99 114.3,256.19 114.5,256.25 114.7,256.22 114.9,256.09 115.1,255.81 115.3,255.29 115.5,254.53 115.7,253.66 115.9,252.94 116.1,252.66 116.3,252.94 116.5,253.65 116.7,254.51 116.9,255.23 117.1,255.64 117.3,255.65 117.5,255.23 117.7,254.39 117.9,253.24 118.1,252.09 118.3,251.36 118.5,251.36 118.7,252.09 118.9,253.23 119.1,254.37 119.3,255.17 119.5,255.47 119.7,255.21 119.9,254.35 120.1,252.97 120.3,251.36 120.5,250.02 120.7,249.50 120.9,250.02 121.1,251.36 121.3,252.99 121.5,254.40 121.7,255.36 121.9,255.83 122.1,255.90 122.3,255.57 122.5,254.75 122.7,253.37 122.9,251.57 123.1,249.78 123.3,248.65 123.5,248.63 123.7,249.70 123.9,251.28 124.1,252.55 124.3,252.78 124.5,251.55 124.7,248.92 124.9,245.60 125.1,242.74 125.3,241.52 125.5,242.38 125.7,244.71 125.9,247.32 126.1,249.21 126.3,250.15 126.5,250.58 126.7,251.11 126.9,252.04 127.1,253.24 127.3,254.42 127.5,255.31 127.7,255.86 127.9,256.13 128.1,256.24 128.3,256.28 128.5,256.30 128.7,256.30 128.9,256.30 129.1,256.30 129.3,256.30 129.5,256.30" fill="none" stroke="#7b7bd6" stroke-width="0.7" stroke-linejoin="round" opacity="0.75"/>
<text x="87.2" y="288.2" font-size="4.0" font-weight="bold" text-anchor="middle" fill="#111" stroke="#111" stroke-width="0.22" textLength="33.2" lengthAdjust="spacingAndGlyphs" >GCRLFINVAPHARIA</text>
<line x1="24.6" y1="291.1" x2="150.1" y2="291.1" stroke="#e0e0e0" stroke-width="0.8" opacity="1"/>
<text x="23.4" y="293.0" font-size="4.6" font-weight="bold" text-anchor="end" fill="#1a1a1a" stroke="#1a1a1a" stroke-width="0.2" textLength="8.69" lengthAdjust="spacingAndGlyphs" >4.0E6</text>
<line x1="24.6" y1="310.77500000000003" x2="150.1" y2="310.77500000000003" stroke="#e0e0e0" stroke-width="0.8" opacity="1"/>
<text x="23.4" y="312.675" font-size="4.6" font-weight="bold" text-anchor="end" fill="#1a1a1a" stroke="#1a1a1a" stroke-width="0.2" textLength="8.69" lengthAdjust="spacingAndGlyphs" >3.0E6</text>
<line x1="24.6" y1="330.45000000000005" x2="150.1" y2="330.45000000000005" stroke="#e0e0e0" stroke-width="0.8" opacity="1"/>
<text x="23.4" y="332.35" font-size="4.6" font-weight="bold" text-anchor="end" fill="#1a1a1a" stroke="#1a1a1a" stroke-width="0.2" textLength="8.69" lengthAdjust="spacingAndGlyphs" >2.0E6</text>
<line x1="24.6" y1="350.125" x2="150.1" y2="350.125" stroke="#e0e0e0" stroke-width="0.8" opacity="1"/>
<text x="23.4" y="352.025" font-size="4.6" font-weight="bold" text-anchor="end" fill="#1a1a1a" stroke="#1a1a1a" stroke-width="0.2" textLength="8.69" lengthAdjust="spacingAndGlyphs" >1.0E6</text>
<line x1="24.6" y1="369.8" x2="150.1" y2="369.8" stroke="#e0e0e0" stroke-width="0.8" opacity="1"/>
<text x="23.4" y="371.7" font-size="4.6" font-weight="bold" text-anchor="end" fill="#1a1a1a" stroke="#1a1a1a" stroke-width="0.2" textLength="8.69" lengthAdjust="spacingAndGlyphs" >0.0E0</text>
<line x1="24.6" y1="291.1" x2="24.6" y2="369.8" stroke="#e0e0e0" stroke-width="0.8" opacity="1"/>
<text x="24.6" y="374.9" font-size="4.6" font-weight="bold" text-anchor="middle" fill="#1a1a1a" stroke="#1a1a1a" stroke-width="0.2" textLength="6.83" lengthAdjust="spacingAndGlyphs" >32.5</text>
<line x1="45.516666666666666" y1="291.1" x2="45.516666666666666" y2="369.8" stroke="#e0e0e0" stroke-width="0.8" opacity="1"/>
<text x="45.516666666666666" y="374.9" font-size="4.6" font-weight="bold" text-anchor="middle" fill="#1a1a1a" stroke="#1a1a1a" stroke-width="0.2" textLength="3.87" lengthAdjust="spacingAndGlyphs" >33</text>
<line x1="66.43333333333334" y1="291.1" x2="66.43333333333334" y2="369.8" stroke="#e0e0e0" stroke-width="0.8" opacity="1"/>
<text x="66.43333333333334" y="374.9" font-size="4.6" font-weight="bold" text-anchor="middle" fill="#1a1a1a" stroke="#1a1a1a" stroke-width="0.2" textLength="6.83" lengthAdjust="spacingAndGlyphs" >33.5</text>
<line x1="87.35" y1="291.1" x2="87.35" y2="369.8" stroke="#e0e0e0" stroke-width="0.8" opacity="1"/>
<text x="87.35" y="374.9" font-size="4.6" font-weight="bold" text-anchor="middle" fill="#1a1a1a" stroke="#1a1a1a" stroke-width="0.2" textLength="3.87" lengthAdjust="spacingAndGlyphs" >34</text>
<line x1="108.26666666666668" y1="291.1" x2="108.26666666666668" y2="369.8" stroke="#e0e0e0" stroke-width="0.8" opacity="1"/>
<text x="108.26666666666668" y="374.9" font-size="4.6" font-weight="bold" text-anchor="middle" fill="#1a1a1a" stroke="#1a1a1a" stroke-width="0.2" textLength="6.83" lengthAdjust="spacingAndGlyphs" >34.5</text>
<line x1="129.18333333333334" y1="291.1" x2="129.18333333333334" y2="369.8" stroke="#e0e0e0" stroke-width="0.8" opacity="1"/>
<text x="129.18333333333334" y="374.9" font-size="4.6" font-weight="bold" text-anchor="middle" fill="#1a1a1a" stroke="#1a1a1a" stroke-width="0.2" textLength="3.87" lengthAdjust="spacingAndGlyphs" >35</text>
<line x1="150.1" y1="291.1" x2="150.1" y2="369.8" stroke="#e0e0e0" stroke-width="0.8" opacity="1"/>
<text x="150.1" y="374.9" font-size="4.6" font-weight="bold" text-anchor="middle" fill="#1a1a1a" stroke="#1a1a1a" stroke-width="0.2" textLength="6.83" lengthAdjust="spacingAndGlyphs" >35.5</text>
<line x1="24.6" y1="291.1" x2="24.6" y2="369.8" stroke="#dadada" stroke-width="0.8" opacity="1"/>
<line x1="24.6" y1="369.8" x2="150.1" y2="369.8" stroke="#dadada" stroke-width="0.8" opacity="1"/>
<text x="94.3" y="379.3" font-size="5.9" font-weight="bold" text-anchor="middle" fill="#111" stroke="#111" stroke-width="0.28" textLength="53.2" lengthAdjust="spacingAndGlyphs" >Retention Time (min)</text>
<text x="11.2" y="326" font-size="5.8" font-weight="bold" text-anchor="middle" fill="#111" stroke="#111" stroke-width="0.25" textLength="22.3" lengthAdjust="spacingAndGlyphs" transform="rotate(-90 11.2 326)">Intensity</text>
<line x1="153" y1="294.2" x2="164.6" y2="294.2" stroke="#e07a88" stroke-width="1.0" opacity="0.8"/>
<line x1="153" y1="299.7" x2="164.6" y2="299.7" stroke="#6a6ad0" stroke-width="1.0" opacity="0.8"/>
<text x="165.4" y="296.8" font-size="6.0" text-anchor="start" fill="#111" stroke="#111" stroke-width="0.18" textLength="46.8" lengthAdjust="spacingAndGlyphs" >500nM ADAMTS13</text>
<text x="165.4" y="302.3" font-size="6.0" text-anchor="start" fill="#111" stroke="#111" stroke-width="0.18" textLength="46.8" lengthAdjust="spacingAndGlyphs" >100nM ADAMTS13</text>
<line x1="26" y1="368.9" x2="149" y2="368.9" stroke="#d8d4dc" stroke-width="0.7" opacity="1"/>
<polyline points="72.00,369.00 72.10,369.01 72.23,369.04 72.39,369.06 72.57,369.07 72.78,369.06 73.00,369.00 73.25,368.97 73.54,369.00 73.85,369.00 74.17,368.89 74.49,368.58 74.80,368.00 75.10,367.14 75.41,366.07 75.72,364.81 76.03,363.37 76.32,361.76 76.60,360.00 76.86,358.04 77.10,355.85 77.33,353.50 77.56,351.04 77.78,348.52 78.00,346.00 78.23,343.46 78.45,340.85 78.67,338.19 78.89,335.48 79.10,332.75 79.30,330.00 79.49,327.16 79.66,324.19 79.83,321.19 79.99,318.26 80.14,315.50 80.30,313.00 80.45,310.76 80.60,308.70 80.74,306.81 80.89,305.07 81.04,303.47 81.20,302.00 81.37,300.66 81.54,299.47 81.72,298.41 81.91,297.49 82.10,296.69 82.30,296.00 82.51,295.42 82.72,294.95 82.94,294.60 83.17,294.39 83.39,294.31 83.60,294.40 83.81,294.60 84.01,294.90 84.21,295.35 84.41,295.99 84.61,296.85 84.80,298.00 84.99,299.53 85.18,301.41 85.37,303.54 85.55,305.76 85.73,307.96 85.90,310.00 86.06,311.91 86.21,313.81 86.36,315.69 86.51,317.52 86.65,319.29 86.80,321.00 86.95,322.62 87.09,324.17 87.23,325.66 87.38,327.11 87.53,328.55 87.70,330.00 87.88,331.47 88.07,332.94 88.27,334.41 88.47,335.83 88.68,337.20 88.90,338.50 89.12,339.71 89.33,340.85 89.56,341.94 89.79,342.98 90.04,344.00 90.30,345.00 90.59,345.99 90.89,346.94 91.21,347.88 91.53,348.78 91.87,349.65 92.20,350.50 92.53,351.31 92.84,352.09 93.17,352.84 93.51,353.57 93.88,354.29 94.30,355.00 94.77,355.71 95.27,356.41 95.81,357.09 96.37,357.76 96.94,358.40 97.50,359.00 98.05,359.55 98.59,360.06 99.14,360.53 99.71,361.00 100.33,361.48 101.00,362.00 101.73,362.58 102.52,363.20 103.34,363.83 104.20,364.45 105.09,365.02 106.00,365.50 106.94,365.90 107.93,366.25 108.94,366.54 109.96,366.80 110.99,367.01 112.00,367.20 113.00,367.35 114.00,367.45 115.00,367.52 116.00,367.56 117.00,367.58 118.00,367.60 119.02,367.59 120.07,367.55 121.12,367.49 122.15,367.43 123.12,367.39 124.00,367.40 124.78,367.45 125.48,367.54 126.12,367.65 126.74,367.77 127.36,367.89 128.00,368.00 128.71,368.11 129.48,368.22 130.25,368.34 130.96,368.44 131.56,368.53 132.00,368.60" fill="none" stroke="#d98a96" stroke-width="0.8" stroke-linejoin="round" opacity="0.8"/>
<polyline points="76.00,369.10 76.10,369.12 76.23,369.16 76.39,369.21 76.57,369.21 76.78,369.16 77.00,369.00 77.26,368.75 77.55,368.42 77.87,368.02 78.19,367.57 78.51,367.06 78.80,366.50 79.06,365.84 79.31,365.06 79.55,364.23 79.79,363.40 80.04,362.64 80.30,362.00 80.59,361.47 80.89,361.00 81.20,360.59 81.51,360.26 81.81,359.99 82.10,359.80 82.37,359.74 82.62,359.83 82.86,359.98 83.10,360.14 83.35,360.24 83.60,360.20 83.86,360.03 84.13,359.78 84.41,359.46 84.68,359.10 84.94,358.71 85.20,358.30 85.44,357.84 85.68,357.31 85.91,356.75 86.13,356.20 86.36,355.70 86.60,355.30 86.85,354.98 87.10,354.69 87.36,354.46 87.61,354.30 87.86,354.21 88.10,354.20 88.32,354.29 88.54,354.46 88.74,354.70 88.95,355.01 89.17,355.38 89.40,355.80 89.64,356.31 89.90,356.93 90.16,357.61 90.43,358.29 90.71,358.94 91.00,359.50 91.30,359.97 91.62,360.40 91.94,360.79 92.28,361.14 92.63,361.48 93.00,361.80 93.39,362.09 93.80,362.33 94.22,362.56 94.65,362.78 95.08,363.02 95.50,363.30 95.91,363.63 96.31,363.99 96.72,364.36 97.13,364.75 97.55,365.13 98.00,365.50 98.45,365.87 98.89,366.25 99.34,366.63 99.83,366.99 100.38,367.32 101.00,367.60 101.73,367.83 102.56,368.01 103.44,368.16 104.33,368.29 105.20,368.40 106.00,368.50 106.77,368.59 107.56,368.66 108.31,368.71 109.00,368.74 109.58,368.77 110.00,368.80" fill="none" stroke="#7b7bd6" stroke-width="0.8" stroke-linejoin="round" opacity="0.8"/>
<circle cx="81.2" cy="310" r="0.9" fill="#333"/>
<circle cx="87.9" cy="354.8" r="0.9" fill="#333"/>
<text x="300.3" y="175.5" font-size="12" font-weight="bold" text-anchor="start" fill="#000" stroke="#000" stroke-width="0.25" >C</text>
<text x="391" y="171.8" font-size="5.7" font-weight="bold" text-anchor="middle" fill="#111" stroke="#111" stroke-width="0.25" textLength="20.4" lengthAdjust="spacingAndGlyphs" >Donor 4</text>
<line x1="328.7" y1="176.7" x2="453.5" y2="176.7" stroke="#e0e0e0" stroke-width="0.8" opacity="1"/>
<text x="327.6" y="178.6" font-size="4.6" font-weight="bold" text-anchor="end" fill="#1a1a1a" stroke="#1a1a1a" stroke-width="0.2" textLength="8.69" lengthAdjust="spacingAndGlyphs" >8.0E7</text>
<line x1="328.7" y1="196.35" x2="453.5" y2="196.35" stroke="#e0e0e0" stroke-width="0.8" opacity="1"/>
<text x="327.6" y="198.25" font-size="4.6" font-weight="bold" text-anchor="end" fill="#1a1a1a" stroke="#1a1a1a" stroke-width="0.2" textLength="8.69" lengthAdjust="spacingAndGlyphs" >6.0E7</text>
<line x1="328.7" y1="216.0" x2="453.5" y2="216.0" stroke="#e0e0e0" stroke-width="0.8" opacity="1"/>
<text x="327.6" y="217.9" font-size="4.6" font-weight="bold" text-anchor="end" fill="#1a1a1a" stroke="#1a1a1a" stroke-width="0.2" textLength="8.69" lengthAdjust="spacingAndGlyphs" >4.0E7</text>
<line x1="328.7" y1="235.65" x2="453.5" y2="235.65" stroke="#e0e0e0" stroke-width="0.8" opacity="1"/>
<text x="327.6" y="237.55" font-size="4.6" font-weight="bold" text-anchor="end" fill="#1a1a1a" stroke="#1a1a1a" stroke-width="0.2" textLength="8.69" lengthAdjust="spacingAndGlyphs" >2.0E7</text>
<line x1="328.7" y1="255.3" x2="453.5" y2="255.3" stroke="#e0e0e0" stroke-width="0.8" opacity="1"/>
<text x="327.6" y="257.2" font-size="4.6" font-weight="bold" text-anchor="end" fill="#1a1a1a" stroke="#1a1a1a" stroke-width="0.2" textLength="8.69" lengthAdjust="spacingAndGlyphs" >0.0E0</text>
<line x1="328.7" y1="176.7" x2="328.7" y2="255.3" stroke="#e0e0e0" stroke-width="0.8" opacity="1"/>
<text x="328.7" y="260.2" font-size="4.6" font-weight="bold" text-anchor="middle" fill="#1a1a1a" stroke="#1a1a1a" stroke-width="0.2" textLength="3.87" lengthAdjust="spacingAndGlyphs" >20</text>
<line x1="349.5" y1="176.7" x2="349.5" y2="255.3" stroke="#e0e0e0" stroke-width="0.8" opacity="1"/>
<text x="349.5" y="260.2" font-size="4.6" font-weight="bold" text-anchor="middle" fill="#1a1a1a" stroke="#1a1a1a" stroke-width="0.2" textLength="3.87" lengthAdjust="spacingAndGlyphs" >25</text>
<line x1="370.3" y1="176.7" x2="370.3" y2="255.3" stroke="#e0e0e0" stroke-width="0.8" opacity="1"/>
<text x="370.3" y="260.2" font-size="4.6" font-weight="bold" text-anchor="middle" fill="#1a1a1a" stroke="#1a1a1a" stroke-width="0.2" textLength="3.87" lengthAdjust="spacingAndGlyphs" >30</text>
<line x1="391.1" y1="176.7" x2="391.1" y2="255.3" stroke="#e0e0e0" stroke-width="0.8" opacity="1"/>
<text x="391.1" y="260.2" font-size="4.6" font-weight="bold" text-anchor="middle" fill="#1a1a1a" stroke="#1a1a1a" stroke-width="0.2" textLength="3.87" lengthAdjust="spacingAndGlyphs" >35</text>
<line x1="411.9" y1="176.7" x2="411.9" y2="255.3" stroke="#e0e0e0" stroke-width="0.8" opacity="1"/>
<text x="411.9" y="260.2" font-size="4.6" font-weight="bold" text-anchor="middle" fill="#1a1a1a" stroke="#1a1a1a" stroke-width="0.2" textLength="3.87" lengthAdjust="spacingAndGlyphs" >40</text>
<line x1="432.7" y1="176.7" x2="432.7" y2="255.3" stroke="#e0e0e0" stroke-width="0.8" opacity="1"/>
<text x="432.7" y="260.2" font-size="4.6" font-weight="bold" text-anchor="middle" fill="#1a1a1a" stroke="#1a1a1a" stroke-width="0.2" textLength="3.87" lengthAdjust="spacingAndGlyphs" >45</text>
<line x1="453.5" y1="176.7" x2="453.5" y2="255.3" stroke="#e0e0e0" stroke-width="0.8" opacity="1"/>
<text x="453.5" y="260.2" font-size="4.6" font-weight="bold" text-anchor="middle" fill="#1a1a1a" stroke="#1a1a1a" stroke-width="0.2" textLength="3.87" lengthAdjust="spacingAndGlyphs" >50</text>
<line x1="328.7" y1="176.7" x2="328.7" y2="255.3" stroke="#dadada" stroke-width="0.8" opacity="1"/>
<line x1="328.7" y1="255.3" x2="453.5" y2="255.3" stroke="#dadada" stroke-width="0.8" opacity="1"/>
<line x1="456" y1="177.8" x2="466.8" y2="177.8" stroke="#e07a88" stroke-width="1.0" opacity="0.8"/>
<line x1="456" y1="183.6" x2="466.8" y2="183.6" stroke="#6a6ad0" stroke-width="1.0" opacity="0.8"/>
<text x="467.8" y="180.4" font-size="6.0" text-anchor="start" fill="#111" stroke="#111" stroke-width="0.18" textLength="47.5" lengthAdjust="spacingAndGlyphs" >500nM ADAMTS13</text>
<text x="467.8" y="186.2" font-size="6.0" text-anchor="start" fill="#111" stroke="#111" stroke-width="0.18" textLength="47.5" lengthAdjust="spacingAndGlyphs" >100nM ADAMTS13</text>
<line x1="328.3" y1="251.8" x2="366" y2="251.8" stroke="#b4aabb" stroke-width="1.1" opacity="1"/>
<polyline points="328.3,251.80 328.5,251.80 328.7,251.80 328.9,251.80 329.1,251.80 329.3,251.80 329.5,251.80 329.7,251.80 329.9,251.80 330.1,251.80 330.3,251.80 330.5,251.80 330.7,251.80 330.9,251.80 331.1,251.80 331.3,251.80 331.5,251.80 331.7,251.80 331.9,251.80 332.1,251.80 332.3,251.80 332.5,251.80 332.7,251.80 332.9,251.80 333.1,251.80 333.3,251.80 333.5,251.80 333.7,251.80 333.9,251.80 334.1,251.80 334.3,251.80 334.5,251.80 334.7,251.80 334.9,251.80 335.1,251.80 335.3,251.80 335.5,251.80 335.7,251.80 335.9,251.80 336.1,251.80 336.3,251.80 336.5,251.80 336.7,251.80 336.9,251.80 337.1,251.80 337.3,251.80 337.5,251.80 337.7,251.80 337.9,251.80 338.1,251.80 338.3,251.80 338.5,251.80 338.7,251.80 338.9,251.80 339.1,251.80 339.3,251.80 339.5,251.80 339.7,251.80 339.9,251.80 340.1,251.80 340.3,251.80 340.5,251.80 340.7,251.80 340.9,251.80 341.1,251.80 341.3,251.80 341.5,251.80 341.7,251.80 341.9,251.80 342.1,251.80 342.3,251.80 342.5,251.80 342.7,251.80 342.9,251.80 343.1,251.80 343.3,251.80 343.5,251.80 343.7,251.80 343.9,251.80 344.1,251.80 344.3,251.80 344.5,251.80 344.7,251.80 344.9,251.80 345.1,251.80 345.3,251.80 345.5,251.80 345.7,251.80 345.9,251.80 346.1,251.80 346.3,251.80 346.5,251.80 346.7,251.80 346.9,251.80 347.1,251.80 347.3,251.80 347.5,251.80 347.7,251.80 347.9,251.80 348.1,251.80 348.3,251.80 348.5,251.80 348.7,251.80 348.9,251.80 349.1,251.80 349.3,251.80 349.5,251.80 349.7,251.80 349.9,251.80 350.1,251.80 350.3,251.80 350.5,251.80 350.7,251.80 350.9,251.80 351.1,251.80 351.3,251.80 351.5,251.80 351.7,251.80 351.9,251.80 352.1,251.80 352.3,251.80 352.5,251.80 352.7,251.80 352.9,251.80 353.1,251.80 353.3,251.80 353.5,251.80 353.7,251.80 353.9,251.80 354.1,251.80 354.3,251.80 354.5,251.80 354.7,251.80 354.9,251.80 355.1,251.80 355.3,251.80 355.5,251.80 355.7,251.80 355.9,251.80 356.1,251.80 356.3,251.80 356.5,251.80 356.7,251.80 356.9,251.80 357.1,251.80 357.3,251.80 357.5,251.80 357.7,251.80 357.9,251.80 358.1,251.80 358.3,251.80 358.5,251.80 358.7,251.80 358.9,251.80 359.1,251.80 359.3,251.80 359.5,251.80 359.7,251.80 359.9,251.80 360.1,251.80 360.3,251.80 360.5,251.80 360.7,251.80 360.9,251.80 361.1,251.80 361.3,251.80 361.5,251.80 361.7,251.80 361.9,251.80 362.1,251.80 362.3,251.80 362.5,251.80 362.7,251.80 362.9,251.80 363.1,251.80 363.3,251.80 363.5,251.80 363.7,251.80 363.9,251.80 364.1,251.80 364.3,251.80 364.5,251.80 364.7,251.80 364.9,251.80 365.1,251.80 365.3,251.79 365.5,251.75 365.7,251.62 365.9,251.26 366.1,250.40 366.3,248.67 366.5,245.87 366.7,242.22 366.9,238.60 367.1,236.31 367.3,236.31 367.5,238.60 367.7,242.22 367.9,245.87 368.1,248.67 368.3,250.40 368.5,251.26 368.7,251.62 368.9,251.75 369.1,251.79 369.3,251.80 369.5,251.80 369.7,251.80 369.9,251.80 370.1,251.80 370.3,251.80 370.5,251.80 370.7,251.80 370.9,251.80 371.1,251.80 371.3,251.80 371.5,251.80 371.7,251.80 371.9,251.80 372.1,251.80 372.3,251.80 372.5,251.80 372.7,251.80 372.9,251.80 373.1,251.80 373.3,251.80 373.5,251.80 373.7,251.80 373.9,251.79 374.1,251.72 374.3,251.38 374.5,250.11 374.7,246.67 374.9,240.02 375.1,231.30 375.3,224.75 375.5,224.75 375.7,231.30 375.9,240.02 376.1,246.67 376.3,250.10 376.5,251.37 376.7,251.67 376.9,251.59 377.1,251.17 377.3,250.25 377.5,248.75 377.7,247.00 377.9,245.77 378.1,245.77 378.3,247.00 378.5,248.75 378.7,250.25 378.9,251.18 379.1,251.60 379.3,251.75 379.5,251.79 379.7,251.80 379.9,251.79 380.1,251.71 380.3,251.32 380.5,249.89 380.7,246.03 380.9,238.55 381.1,228.73 381.3,221.37 381.5,221.37 381.7,228.73 381.9,238.55 382.1,246.03 382.3,249.89 382.5,251.32 382.7,251.71 382.9,251.78 383.1,251.78 383.3,251.71 383.5,251.43 383.7,250.66 383.9,248.98 384.1,246.24 384.3,243.04 384.5,240.82 384.7,240.82 384.9,243.04 385.1,246.23 385.3,248.97 385.5,250.57 385.7,251.00 385.9,250.19 386.1,247.67 386.3,243.10 386.5,237.46 386.7,233.38 386.9,233.38 387.1,237.46 387.3,243.10 387.5,247.67 387.7,250.18 387.9,250.96 388.1,250.43 388.3,248.64 388.5,245.59 388.7,242.04 388.9,239.55 389.1,239.55 389.3,242.04 389.5,245.59 389.7,248.64 389.9,250.45 390.1,251.00 390.3,250.34 390.5,248.10 390.7,244.01 390.9,238.97 391.1,235.32 391.3,235.32 391.5,238.97 391.7,244.01 391.9,248.11 392.1,250.39 392.3,251.19 392.5,251.02 392.7,250.06 392.9,248.40 393.1,246.45 393.3,245.09 393.5,245.09 393.7,246.45 393.9,248.40 394.1,250.04 394.3,250.93 394.5,250.98 394.7,250.10 394.9,248.15 395.1,245.38 395.3,242.78 395.5,241.70 395.7,242.78 395.9,245.38 396.1,248.16 396.3,250.15 396.5,251.21 396.7,251.63 396.9,251.76 397.1,251.79 397.3,251.80 397.5,251.80 397.7,251.79 397.9,251.77 398.1,251.65 398.3,251.28 398.5,250.37 398.7,248.63 398.9,246.21 399.1,243.94 399.3,243.00 399.5,243.93 399.7,246.17 399.9,248.47 400.1,249.86 400.3,250.04 400.5,249.19 400.7,247.89 400.9,246.93 401.1,246.94 401.3,247.93 401.5,249.34 401.7,250.55 401.9,251.29 402.1,251.60 402.3,251.54 402.5,250.80 402.7,248.36 402.9,242.74 403.1,233.70 403.3,224.37 403.5,220.30 403.7,224.37 403.9,233.70 404.1,242.74 404.3,248.37 404.5,250.81 404.7,251.58 404.9,251.76 405.1,251.80 405.3,251.80 405.5,251.80 405.7,251.80 405.9,251.80 406.1,251.80 406.3,251.80 406.5,251.77 406.7,251.64 406.9,251.18 407.1,249.91 407.3,247.25 407.5,243.31 407.7,239.45 407.9,237.80 408.1,239.44 408.3,243.31 408.5,247.24 408.7,249.86 408.9,250.99 409.1,251.04 409.3,250.27 409.5,248.84 409.7,247.15 409.9,245.97 410.1,245.97 410.3,247.15 410.5,248.85 410.7,250.30 410.9,251.20 411.1,251.61 411.3,251.75 411.5,251.78 411.7,251.76 411.9,251.64 412.1,251.30 412.3,250.55 412.5,249.34 412.7,247.93 412.9,246.94 413.1,246.94 413.3,247.93 413.5,249.34 413.7,250.55 413.9,251.30 414.1,251.64 414.3,251.75 414.5,251.78 414.7,251.76 414.9,251.70 415.1,251.49 415.3,250.86 415.5,249.29 415.7,246.17 415.9,241.53 416.1,236.72 416.3,233.91 416.5,234.27 416.7,236.90 416.9,239.87 417.1,241.98 417.3,243.26 417.5,244.26 417.7,245.36 417.9,246.62 418.1,247.91 418.3,249.07 418.5,250.00 418.7,250.64 418.9,250.90 419.1,250.57 419.3,249.40 419.5,247.30 419.7,244.80 419.9,243.04 420.1,243.05 420.3,244.82 420.5,247.35 420.7,249.46 420.9,250.53 421.1,250.37 421.3,248.91 421.5,246.22 421.7,243.04 421.9,240.81 422.1,240.76 422.3,242.82 422.5,245.44 422.7,246.82 422.9,246.08 423.1,243.89 423.3,242.01 423.5,242.09 423.7,244.25 423.9,247.21 424.1,249.59 424.3,250.82 424.5,250.91 424.7,249.92 424.9,247.75 425.1,244.68 425.3,241.80 425.5,240.60 425.7,241.80 425.9,244.66 426.1,247.68 426.3,249.68 426.5,250.33 426.7,249.81 426.9,248.58 427.1,247.33 427.3,246.80 427.5,247.34 427.7,248.62 427.9,250.00 428.1,250.98 428.3,251.50 428.5,251.70 428.7,251.73 428.9,251.59 429.1,251.15 429.3,250.18 429.5,248.60 429.7,246.76 429.9,245.48 430.1,245.48 430.3,246.76 430.5,248.60 430.7,250.18 430.9,251.15 431.1,251.59 431.3,251.75 431.5,251.79 431.7,251.80 431.9,251.80 432.1,251.79 432.3,251.76 432.5,251.65 432.7,251.35 432.9,250.68 433.1,249.58 433.3,248.31 433.5,247.43 433.7,247.43 433.9,248.31 434.1,249.58 434.3,250.68 434.5,251.35 434.7,251.65 434.9,251.74 435.1,251.70 435.3,251.48 435.5,250.90 435.7,249.82 435.9,248.31 436.1,246.89 436.3,246.30 436.5,246.89 436.7,248.31 436.9,249.82 437.1,250.90 437.3,251.48 437.5,251.71 437.7,251.78 437.9,251.80 438.1,251.80 438.3,251.79 438.5,251.77 438.7,251.67 438.9,251.40 439.1,250.80 439.3,249.83 439.5,248.70 439.7,247.91 439.9,247.91 440.1,248.70 440.3,249.83 440.5,250.80 440.7,251.40 440.9,251.67 441.1,251.75 441.3,251.70 441.5,251.48 441.7,250.90 441.9,249.82 442.1,248.31 442.3,246.89 442.5,246.30 442.7,246.89 442.9,248.31 443.1,249.82 443.3,250.90 443.5,251.48 443.7,251.70 443.9,251.75 444.1,251.67 444.3,251.40 444.5,250.80 444.7,249.83 444.9,248.70 445.1,247.91 445.3,247.91 445.5,248.70 445.7,249.83 445.9,250.80 446.1,251.40 446.3,251.67 446.5,251.75 446.7,251.73 446.9,251.56 447.1,251.15 447.3,250.36 447.5,249.26 447.7,248.23 447.9,247.80 448.1,248.23 448.3,249.26 448.5,250.36 448.7,251.15 448.9,251.56 449.1,251.73 449.3,251.78 449.5,251.79 449.7,251.74 449.9,251.57 450.1,251.10 450.3,250.05 450.5,248.35 450.7,246.38 450.9,245.00 451.1,245.00 451.3,246.38 451.5,248.35 451.7,250.05 451.9,251.10 452.1,251.57 452.3,251.74 452.5,251.79 452.7,251.80 452.9,251.80" fill="none" stroke="#d98a96" stroke-width="0.7" stroke-linejoin="round" opacity="0.8"/>
<polyline points="328.3,251.80 328.5,251.80 328.7,251.80 328.9,251.80 329.1,251.80 329.3,251.80 329.5,251.80 329.7,251.80 329.9,251.80 330.1,251.80 330.3,251.80 330.5,251.80 330.7,251.80 330.9,251.80 331.1,251.80 331.3,251.80 331.5,251.80 331.7,251.80 331.9,251.80 332.1,251.80 332.3,251.80 332.5,251.80 332.7,251.80 332.9,251.80 333.1,251.80 333.3,251.80 333.5,251.80 333.7,251.80 333.9,251.80 334.1,251.80 334.3,251.80 334.5,251.80 334.7,251.80 334.9,251.80 335.1,251.80 335.3,251.80 335.5,251.80 335.7,251.80 335.9,251.80 336.1,251.80 336.3,251.80 336.5,251.80 336.7,251.80 336.9,251.80 337.1,251.80 337.3,251.80 337.5,251.80 337.7,251.80 337.9,251.80 338.1,251.80 338.3,251.80 338.5,251.80 338.7,251.80 338.9,251.80 339.1,251.80 339.3,251.80 339.5,251.80 339.7,251.80 339.9,251.80 340.1,251.80 340.3,251.80 340.5,251.80 340.7,251.80 340.9,251.80 341.1,251.80 341.3,251.80 341.5,251.80 341.7,251.80 341.9,251.80 342.1,251.80 342.3,251.80 342.5,251.80 342.7,251.80 342.9,251.80 343.1,251.80 343.3,251.80 343.5,251.80 343.7,251.80 343.9,251.80 344.1,251.80 344.3,251.80 344.5,251.80 344.7,251.80 344.9,251.80 345.1,251.80 345.3,251.80 345.5,251.80 345.7,251.80 345.9,251.80 346.1,251.80 346.3,251.80 346.5,251.80 346.7,251.80 346.9,251.80 347.1,251.80 347.3,251.80 347.5,251.80 347.7,251.80 347.9,251.80 348.1,251.80 348.3,251.80 348.5,251.80 348.7,251.80 348.9,251.80 349.1,251.80 349.3,251.80 349.5,251.80 349.7,251.80 349.9,251.80 350.1,251.80 350.3,251.80 350.5,251.80 350.7,251.80 350.9,251.80 351.1,251.80 351.3,251.80 351.5,251.80 351.7,251.80 351.9,251.80 352.1,251.80 352.3,251.80 352.5,251.80 352.7,251.80 352.9,251.80 353.1,251.80 353.3,251.80 353.5,251.80 353.7,251.80 353.9,251.80 354.1,251.80 354.3,251.80 354.5,251.80 354.7,251.80 354.9,251.80 355.1,251.80 355.3,251.80 355.5,251.80 355.7,251.80 355.9,251.80 356.1,251.80 356.3,251.80 356.5,251.80 356.7,251.80 356.9,251.80 357.1,251.80 357.3,251.80 357.5,251.80 357.7,251.80 357.9,251.80 358.1,251.80 358.3,251.80 358.5,251.80 358.7,251.80 358.9,251.80 359.1,251.80 359.3,251.80 359.5,251.80 359.7,251.80 359.9,251.80 360.1,251.80 360.3,251.80 360.5,251.80 360.7,251.80 360.9,251.80 361.1,251.80 361.3,251.80 361.5,251.80 361.7,251.80 361.9,251.80 362.1,251.80 362.3,251.80 362.5,251.80 362.7,251.80 362.9,251.80 363.1,251.80 363.3,251.80 363.5,251.80 363.7,251.80 363.9,251.80 364.1,251.80 364.3,251.80 364.5,251.80 364.7,251.80 364.9,251.80 365.1,251.80 365.3,251.79 365.5,251.75 365.7,251.62 365.9,251.26 366.1,250.40 366.3,248.67 366.5,245.87 366.7,242.22 366.9,238.60 367.1,236.31 367.3,236.31 367.5,238.60 367.7,242.22 367.9,245.87 368.1,248.67 368.3,250.40 368.5,251.26 368.7,251.62 368.9,251.75 369.1,251.79 369.3,251.80 369.5,251.80 369.7,251.80 369.9,251.80 370.1,251.80 370.3,251.80 370.5,251.80 370.7,251.80 370.9,251.80 371.1,251.80 371.3,251.80 371.5,251.80 371.7,251.80 371.9,251.80 372.1,251.80 372.3,251.80 372.5,251.80 372.7,251.80 372.9,251.80 373.1,251.80 373.3,251.80 373.5,251.80 373.7,251.80 373.9,251.79 374.1,251.74 374.3,251.50 374.5,250.62 374.7,248.23 374.9,243.59 375.1,237.52 375.3,232.96 375.5,232.96 375.7,237.52 375.9,243.59 376.1,248.23 376.3,250.62 376.5,251.49 376.7,251.69 376.9,251.59 377.1,251.17 377.3,250.25 377.5,248.75 377.7,247.00 377.9,245.77 378.1,245.77 378.3,247.00 378.5,248.75 378.7,250.25 378.9,251.18 379.1,251.60 379.3,251.75 379.5,251.79 379.7,251.80 379.9,251.79 380.1,251.73 380.3,251.45 380.5,250.41 380.7,247.58 380.9,242.12 381.1,234.96 381.3,229.58 381.5,229.58 381.7,234.96 381.9,242.12 382.1,247.58 382.3,250.41 382.5,251.45 382.7,251.73 382.9,251.79 383.1,251.78 383.3,251.71 383.5,251.43 383.7,250.66 383.9,248.98 384.1,246.24 384.3,243.04 384.5,240.82 384.7,240.82 384.9,243.04 385.1,246.23 385.3,248.97 385.5,250.59 385.7,251.09 385.9,250.51 386.1,248.54 386.3,244.93 386.5,240.48 386.7,237.26 386.9,237.26 387.1,240.48 387.3,244.93 387.5,248.53 387.7,250.50 387.9,251.05 388.1,250.46 388.3,248.64 388.5,245.59 388.7,242.04 388.9,239.55 389.1,239.55 389.3,242.04 389.5,245.59 389.7,248.64 389.9,250.46 390.1,251.05 390.3,250.50 390.5,248.53 390.7,244.93 390.9,240.48 391.1,237.26 391.3,237.26 391.5,240.48 391.7,244.93 391.9,248.54 392.1,250.55 392.3,251.23 392.5,251.03 392.7,250.07 392.9,248.40 393.1,246.45 393.3,245.09 393.5,245.09 393.7,246.45 393.9,248.40 394.1,250.04 394.3,250.93 394.5,250.98 394.7,250.10 394.9,248.15 395.1,245.38 395.3,242.78 395.5,241.70 395.7,242.78 395.9,245.38 396.1,248.16 396.3,250.15 396.5,251.21 396.7,251.63 396.9,251.76 397.1,251.79 397.3,251.80 397.5,251.80 397.7,251.79 397.9,251.77 398.1,251.65 398.3,251.28 398.5,250.37 398.7,248.63 398.9,246.21 399.1,243.94 399.3,243.00 399.5,243.93 399.7,246.17 399.9,248.47 400.1,249.86 400.3,250.04 400.5,249.19 400.7,247.89 400.9,246.93 401.1,246.94 401.3,247.93 401.5,249.34 401.7,250.55 401.9,251.29 402.1,251.60 402.3,251.58 402.5,251.09 402.7,249.63 402.9,246.61 403.1,242.10 403.3,237.68 403.5,235.80 403.7,237.68 403.9,242.10 404.1,246.61 404.3,249.63 404.5,251.10 404.7,251.62 404.9,251.77 405.1,251.79 405.3,251.80 405.5,251.80 405.7,251.80 405.9,251.80 406.1,251.80 406.3,251.80 406.5,251.77 406.7,251.61 406.9,250.91 407.1,248.71 407.3,243.66 407.5,235.54 407.7,227.16 407.9,223.50 408.1,227.16 408.3,235.54 408.5,243.65 408.7,248.66 408.9,250.72 409.1,251.00 409.3,250.27 409.5,248.84 409.7,247.15 409.9,245.97 410.1,245.97 410.3,247.15 410.5,248.85 410.7,250.30 410.9,251.20 411.1,251.61 411.3,251.75 411.5,251.78 411.7,251.76 411.9,251.64 412.1,251.30 412.3,250.55 412.5,249.34 412.7,247.93 412.9,246.94 413.1,246.94 413.3,247.93 413.5,249.34 413.7,250.55 413.9,251.30 414.1,251.63 414.3,251.75 414.5,251.76 414.7,251.71 414.9,251.58 415.1,251.19 415.3,249.96 415.5,246.30 415.7,237.60 415.9,222.63 416.1,205.73 416.3,196.09 416.5,199.00 416.7,209.91 416.9,220.27 417.1,226.19 417.3,229.04 417.5,231.32 417.7,234.16 417.9,237.57 418.1,241.09 418.3,244.29 418.5,246.89 418.7,248.75 418.9,249.82 419.1,250.01 419.3,249.12 419.5,247.17 419.7,244.74 419.9,243.02 420.1,243.04 420.3,244.82 420.5,247.35 420.7,249.46 420.9,250.53 421.1,250.37 421.3,248.91 421.5,246.22 421.7,243.04 421.9,240.81 422.1,240.74 422.3,242.58 422.5,244.05 422.7,241.48 422.9,231.72 423.1,216.31 423.3,203.89 423.5,203.96 423.7,216.68 423.9,232.85 424.1,244.25 424.3,249.43 424.5,250.68 424.7,249.90 424.9,247.75 425.1,244.68 425.3,241.80 425.5,240.60 425.7,241.80 425.9,244.66 426.1,247.68 426.3,249.68 426.5,250.33 426.7,249.81 426.9,248.58 427.1,247.33 427.3,246.80 427.5,247.34 427.7,248.62 427.9,250.00 428.1,250.98 428.3,251.50 428.5,251.70 428.7,251.73 428.9,251.59 429.1,251.15 429.3,250.18 429.5,248.60 429.7,246.76 429.9,245.48 430.1,245.48 430.3,246.76 430.5,248.60 430.7,250.18 430.9,251.15 431.1,251.59 431.3,251.75 431.5,251.79 431.7,251.80 431.9,251.80 432.1,251.79 432.3,251.76 432.5,251.65 432.7,251.35 432.9,250.68 433.1,249.58 433.3,248.31 433.5,247.43 433.7,247.43 433.9,248.31 434.1,249.58 434.3,250.68 434.5,251.35 434.7,251.65 434.9,251.74 435.1,251.70 435.3,251.48 435.5,250.90 435.7,249.82 435.9,248.31 436.1,246.89 436.3,246.30 436.5,246.89 436.7,248.31 436.9,249.82 437.1,250.90 437.3,251.48 437.5,251.71 437.7,251.78 437.9,251.80 438.1,251.80 438.3,251.79 438.5,251.77 438.7,251.67 438.9,251.40 439.1,250.80 439.3,249.83 439.5,248.70 439.7,247.91 439.9,247.91 440.1,248.70 440.3,249.83 440.5,250.80 440.7,251.40 440.9,251.67 441.1,251.75 441.3,251.70 441.5,251.48 441.7,250.90 441.9,249.82 442.1,248.31 442.3,246.89 442.5,246.30 442.7,246.89 442.9,248.31 443.1,249.82 443.3,250.90 443.5,251.48 443.7,251.70 443.9,251.75 444.1,251.67 444.3,251.40 444.5,250.80 444.7,249.83 444.9,248.70 445.1,247.91 445.3,247.91 445.5,248.70 445.7,249.83 445.9,250.80 446.1,251.40 446.3,251.67 446.5,251.75 446.7,251.73 446.9,251.56 447.1,251.15 447.3,250.36 447.5,249.26 447.7,248.23 447.9,247.80 448.1,248.23 448.3,249.26 448.5,250.36 448.7,251.15 448.9,251.56 449.1,251.73 449.3,251.78 449.5,251.79 449.7,251.74 449.9,251.57 450.1,251.10 450.3,250.05 450.5,248.35 450.7,246.38 450.9,245.00 451.1,245.00 451.3,246.38 451.5,248.35 451.7,250.05 451.9,251.10 452.1,251.57 452.3,251.74 452.5,251.79 452.7,251.80 452.9,251.80" fill="none" stroke="#7b7bd6" stroke-width="0.7" stroke-linejoin="round" opacity="0.75"/>
<text x="393.4" y="283.7" font-size="4.0" font-weight="bold" text-anchor="middle" fill="#111" stroke="#111" stroke-width="0.22" textLength="33.2" lengthAdjust="spacingAndGlyphs" >GCRLFINVAPHARIA</text>
<line x1="331.8" y1="286.5" x2="457.5" y2="286.5" stroke="#e0e0e0" stroke-width="0.8" opacity="1"/>
<text x="330.3" y="288.4" font-size="4.6" font-weight="bold" text-anchor="end" fill="#1a1a1a" stroke="#1a1a1a" stroke-width="0.2" textLength="8.69" lengthAdjust="spacingAndGlyphs" >5.0E5</text>
<line x1="331.8" y1="302.26" x2="457.5" y2="302.26" stroke="#e0e0e0" stroke-width="0.8" opacity="1"/>
<text x="330.3" y="304.15999999999997" font-size="4.6" font-weight="bold" text-anchor="end" fill="#1a1a1a" stroke="#1a1a1a" stroke-width="0.2" textLength="8.69" lengthAdjust="spacingAndGlyphs" >4.0E5</text>
<line x1="331.8" y1="318.02" x2="457.5" y2="318.02" stroke="#e0e0e0" stroke-width="0.8" opacity="1"/>
<text x="330.3" y="319.91999999999996" font-size="4.6" font-weight="bold" text-anchor="end" fill="#1a1a1a" stroke="#1a1a1a" stroke-width="0.2" textLength="8.69" lengthAdjust="spacingAndGlyphs" >3.0E5</text>
<line x1="331.8" y1="333.78000000000003" x2="457.5" y2="333.78000000000003" stroke="#e0e0e0" stroke-width="0.8" opacity="1"/>
<text x="330.3" y="335.68" font-size="4.6" font-weight="bold" text-anchor="end" fill="#1a1a1a" stroke="#1a1a1a" stroke-width="0.2" textLength="8.69" lengthAdjust="spacingAndGlyphs" >2.0E5</text>
<line x1="331.8" y1="349.54" x2="457.5" y2="349.54" stroke="#e0e0e0" stroke-width="0.8" opacity="1"/>
<text x="330.3" y="351.44" font-size="4.6" font-weight="bold" text-anchor="end" fill="#1a1a1a" stroke="#1a1a1a" stroke-width="0.2" textLength="8.69" lengthAdjust="spacingAndGlyphs" >1.0E5</text>
<line x1="331.8" y1="365.3" x2="457.5" y2="365.3" stroke="#e0e0e0" stroke-width="0.8" opacity="1"/>
<text x="330.3" y="367.2" font-size="4.6" font-weight="bold" text-anchor="end" fill="#1a1a1a" stroke="#1a1a1a" stroke-width="0.2" textLength="8.69" lengthAdjust="spacingAndGlyphs" >0.0E0</text>
<line x1="331.8" y1="286.5" x2="331.8" y2="365.3" stroke="#e0e0e0" stroke-width="0.8" opacity="1"/>
<text x="331.8" y="371.2" font-size="4.6" font-weight="bold" text-anchor="middle" fill="#1a1a1a" stroke="#1a1a1a" stroke-width="0.2" textLength="3.87" lengthAdjust="spacingAndGlyphs" >32</text>
<line x1="352.75" y1="286.5" x2="352.75" y2="365.3" stroke="#e0e0e0" stroke-width="0.8" opacity="1"/>
<text x="352.75" y="371.2" font-size="4.6" font-weight="bold" text-anchor="middle" fill="#1a1a1a" stroke="#1a1a1a" stroke-width="0.2" textLength="6.83" lengthAdjust="spacingAndGlyphs" >32.5</text>
<line x1="373.7" y1="286.5" x2="373.7" y2="365.3" stroke="#e0e0e0" stroke-width="0.8" opacity="1"/>
<text x="373.7" y="371.2" font-size="4.6" font-weight="bold" text-anchor="middle" fill="#1a1a1a" stroke="#1a1a1a" stroke-width="0.2" textLength="3.87" lengthAdjust="spacingAndGlyphs" >33</text>
<line x1="394.65" y1="286.5" x2="394.65" y2="365.3" stroke="#e0e0e0" stroke-width="0.8" opacity="1"/>
<text x="394.65" y="371.2" font-size="4.6" font-weight="bold" text-anchor="middle" fill="#1a1a1a" stroke="#1a1a1a" stroke-width="0.2" textLength="6.83" lengthAdjust="spacingAndGlyphs" >33.5</text>
<line x1="415.6" y1="286.5" x2="415.6" y2="365.3" stroke="#e0e0e0" stroke-width="0.8" opacity="1"/>
<text x="415.6" y="371.2" font-size="4.6" font-weight="bold" text-anchor="middle" fill="#1a1a1a" stroke="#1a1a1a" stroke-width="0.2" textLength="3.87" lengthAdjust="spacingAndGlyphs" >34</text>
<line x1="436.55" y1="286.5" x2="436.55" y2="365.3" stroke="#e0e0e0" stroke-width="0.8" opacity="1"/>
<text x="436.55" y="371.2" font-size="4.6" font-weight="bold" text-anchor="middle" fill="#1a1a1a" stroke="#1a1a1a" stroke-width="0.2" textLength="6.83" lengthAdjust="spacingAndGlyphs" >34.5</text>
<line x1="457.5" y1="286.5" x2="457.5" y2="365.3" stroke="#e0e0e0" stroke-width="0.8" opacity="1"/>
<text x="457.5" y="371.2" font-size="4.6" font-weight="bold" text-anchor="middle" fill="#1a1a1a" stroke="#1a1a1a" stroke-width="0.2" textLength="3.87" lengthAdjust="spacingAndGlyphs" >35</text>
<line x1="331.8" y1="286.5" x2="331.8" y2="365.3" stroke="#dadada" stroke-width="0.8" opacity="1"/>
<line x1="331.8" y1="365.3" x2="457.5" y2="365.3" stroke="#dadada" stroke-width="0.8" opacity="1"/>
<text x="404.1" y="377.8" font-size="5.9" font-weight="bold" text-anchor="middle" fill="#111" stroke="#111" stroke-width="0.28" textLength="53.6" lengthAdjust="spacingAndGlyphs" >Retention Time (min)</text>
<text x="317.4" y="321.8" font-size="5.8" font-weight="bold" text-anchor="middle" fill="#111" stroke="#111" stroke-width="0.25" textLength="22.4" lengthAdjust="spacingAndGlyphs" transform="rotate(-90 317.4 321.8)">Intensity</text>
<line x1="460.8" y1="287.6" x2="471.5" y2="287.6" stroke="#e07a88" stroke-width="1.0" opacity="0.8"/>
<line x1="460.8" y1="293.5" x2="471.5" y2="293.5" stroke="#6a6ad0" stroke-width="1.0" opacity="0.8"/>
<text x="472.3" y="289.7" font-size="6.0" text-anchor="start" fill="#111" stroke="#111" stroke-width="0.18" textLength="46.2" lengthAdjust="spacingAndGlyphs" >500nM ADAMTS13</text>
<text x="472.3" y="295.6" font-size="6.0" text-anchor="start" fill="#111" stroke="#111" stroke-width="0.18" textLength="46.2" lengthAdjust="spacingAndGlyphs" >100nM ADAMTS13</text>
<line x1="334" y1="364.9" x2="457" y2="364.9" stroke="#d8d4dc" stroke-width="0.7" opacity="1"/>
<polyline points="381.00,365.00 381.26,365.02 381.64,365.08 382.08,365.14 382.54,365.14 382.96,365.04 383.30,364.80 383.56,364.41 383.76,363.92 383.94,363.33 384.09,362.64 384.24,361.86 384.40,361.00 384.56,360.04 384.72,358.98 384.88,357.82 385.02,356.60 385.16,355.32 385.30,354.00 385.43,352.66 385.54,351.30 385.65,349.88 385.76,348.37 385.87,346.75 386.00,345.00 386.14,343.05 386.29,340.93 386.44,338.69 386.59,336.41 386.75,334.16 386.90,332.00 387.05,329.95 387.20,327.96 387.34,326.00 387.49,324.04 387.64,322.05 387.80,320.00 387.96,317.85 388.13,315.61 388.29,313.34 388.46,311.11 388.63,308.98 388.80,307.00 388.96,305.17 389.11,303.42 389.26,301.77 389.41,300.23 389.59,298.80 389.80,297.50 390.05,296.28 390.33,295.12 390.63,294.08 390.94,293.21 391.23,292.57 391.50,292.20 391.74,292.10 391.98,292.23 392.20,292.58 392.41,293.16 392.61,293.97 392.80,295.00 392.97,296.35 393.12,298.02 393.26,299.93 393.40,301.96 393.54,304.01 393.70,306.00 393.87,307.94 394.05,309.93 394.24,311.94 394.43,313.96 394.61,315.99 394.80,318.00 394.98,320.05 395.15,322.15 395.32,324.25 395.50,326.30 395.69,328.23 395.90,330.00 396.13,331.58 396.37,333.00 396.62,334.31 396.90,335.56 397.19,336.77 397.50,338.00 397.85,339.25 398.24,340.48 398.64,341.69 399.05,342.85 399.44,343.96 399.80,345.00 400.12,345.95 400.42,346.81 400.70,347.62 400.97,348.41 401.24,349.19 401.50,350.00 401.76,350.83 402.00,351.67 402.24,352.50 402.49,353.33 402.73,354.17 403.00,355.00 403.28,355.85 403.58,356.72 403.89,357.59 404.20,358.44 404.50,359.25 404.80,360.00 405.09,360.71 405.36,361.39 405.64,362.03 405.91,362.62 406.20,363.15 406.50,363.60 406.73,363.96 406.87,364.25 407.01,364.47 407.27,364.64 407.73,364.78 408.50,364.90 409.73,365.00 411.38,365.06 413.23,365.08 415.09,365.08 416.75,365.05 418.00,365.00 418.80,364.94 419.31,364.87 419.61,364.77 419.81,364.63 420.01,364.45 420.30,364.20 420.66,363.81 421.01,363.27 421.36,362.69 421.71,362.15 422.05,361.75 422.40,361.60 422.75,361.75 423.09,362.15 423.42,362.69 423.77,363.27 424.13,363.81 424.50,364.20 424.92,364.45 425.40,364.63 425.88,364.76 426.34,364.86 426.72,364.93 427.00,365.00" fill="none" stroke="#d98a96" stroke-width="0.8" stroke-linejoin="round" opacity="0.8"/>
<polyline points="382.00,365.10 382.18,365.13 382.43,365.22 382.72,365.31 383.04,365.32 383.34,365.21 383.60,364.90 383.83,364.39 384.04,363.73 384.24,362.94 384.43,362.04 384.62,361.05 384.80,360.00 384.98,358.83 385.15,357.53 385.32,356.13 385.48,354.71 385.64,353.31 385.80,352.00 385.95,350.80 386.10,349.67 386.25,348.56 386.40,347.44 386.55,346.27 386.70,345.00 386.86,343.61 387.02,342.13 387.19,340.59 387.36,339.04 387.53,337.49 387.70,336.00 387.88,334.51 388.06,332.98 388.24,331.47 388.42,330.02 388.61,328.68 388.80,327.50 389.00,326.48 389.20,325.58 389.40,324.79 389.60,324.11 389.80,323.51 390.00,323.00 390.19,322.57 390.37,322.24 390.54,321.99 390.72,321.84 390.91,321.78 391.10,321.80 391.31,321.92 391.53,322.15 391.75,322.46 391.97,322.85 392.19,323.30 392.40,323.80 392.60,324.36 392.79,325.01 392.98,325.71 393.16,326.46 393.33,327.23 393.50,328.00 393.66,328.79 393.81,329.63 393.95,330.48 394.09,331.34 394.24,332.19 394.40,333.00 394.56,333.80 394.72,334.60 394.88,335.39 395.06,336.14 395.26,336.85 395.50,337.50 395.78,338.04 396.09,338.49 396.42,338.89 396.78,339.29 397.14,339.74 397.50,340.30 397.87,340.97 398.27,341.71 398.67,342.51 399.07,343.34 399.45,344.18 399.80,345.00 400.12,345.82 400.42,346.64 400.70,347.48 400.97,348.32 401.24,349.16 401.50,350.00 401.76,350.83 402.00,351.67 402.24,352.50 402.49,353.33 402.73,354.17 403.00,355.00 403.28,355.85 403.58,356.72 403.89,357.59 404.20,358.44 404.50,359.25 404.80,360.00 405.09,360.71 405.36,361.39 405.64,362.02 405.91,362.61 406.20,363.14 406.50,363.60 406.80,363.98 407.09,364.28 407.39,364.52 407.71,364.71 408.08,364.87 408.50,365.00 409.04,365.09 409.69,365.13 410.38,365.14 411.04,365.12 411.60,365.10 412.00,365.10" fill="none" stroke="#7b7bd6" stroke-width="0.8" stroke-linejoin="round" opacity="0.8"/>
<circle cx="393.8" cy="306.9" r="0.9" fill="#333"/>
<circle cx="394.9" cy="333.5" r="0.9" fill="#333"/>
</svg>
</body></html>
